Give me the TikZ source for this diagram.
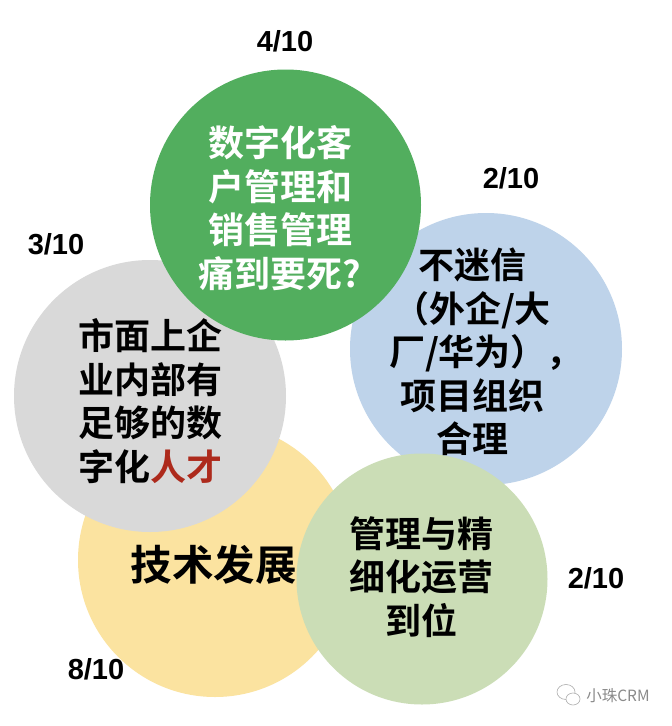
\documentclass[tikz,border=0pt]{standalone}
\usepackage{fontspec}
\setmainfont{Liberation Sans}
\newfontfamily\cjk{Noto Sans CJK SC}[BoldFont={Noto Sans CJK SC Bold}]
\definecolor{cgreen}{HTML}{52AE5E}
\definecolor{cblue}{HTML}{BED3EA}
\definecolor{cyellow}{HTML}{FBE3A0}
\definecolor{cgrey}{HTML}{D9D9D9}
\definecolor{clime}{HTML}{CBDDB6}
\definecolor{cred}{HTML}{AD2A1C}
\definecolor{cmark}{HTML}{8A8A8A}
\tikzset{
 x=1pt,y=-1pt,
 disc/.style={circle,inner sep=0pt},
 lab/.style={font=\bfseries\fontsize{29}{34}\selectfont,text=black},
 body/.style={font=\cjk\bfseries\fontsize{36}{43.5}\selectfont,align=center,text=black,inner sep=0pt},
 wechat/.style={draw=cmark!70,fill=white,line width=.6pt},
}
\begin{document}
\begin{tikzpicture}
\useasboundingbox (0,0) rectangle (672,726);
\fill[white] (0,0) rectangle (672,726);
\node[disc,fill=cyellow,minimum size=274pt] (y) at (215,560) {};
\node[disc,fill=cblue,minimum size=272pt] (b) at (486,349) {};
\node[disc,fill=cgrey,minimum size=272pt] (g) at (150,396) {};
\node[disc,fill=cgreen,minimum size=271pt] (t) at (285.5,205) {};
\node[disc,fill=clime,minimum size=251pt] (l) at (422,579) {};
\node[body,text=white] (tt) at (280,208) {数字化客\\户管理和\\销售管理\\痛到要死?};
\node[body] (bt) at (472,352) {不迷信\\（外企/大\\\hspace*{28pt}厂/华为），\\项目组织\\合理};
\node[body] (gt) at (150,401) {市面上企\\业内部有\\足够的数\\字化\textcolor{cred}{人才}};
\node[body,font=\cjk\bfseries\fontsize{41.5}{48}\selectfont] (yt) at (213.5,565) {技术发展};
\node[body] (lt) at (421,577) {管理与精\\细化运营\\到位};
\node[lab] (a) at (285,41) {4/10};
\node[lab] (c) at (511,178) {2/10};
\node[lab] (d) at (56,244) {3/10};
\node[lab] (e) at (596,578) {2/10};
\node[lab] (f) at (96,669) {8/10};
\draw[wechat] (566,692) ellipse [x radius=9,y radius=7.5];
\draw[wechat] (573,699) ellipse [x radius=7,y radius=6];
\node[font=\cjk\fontsize{15.5}{17}\selectfont,text=cmark] (w) at (618,696) {小珠CRM};
\end{tikzpicture}
\end{document}
